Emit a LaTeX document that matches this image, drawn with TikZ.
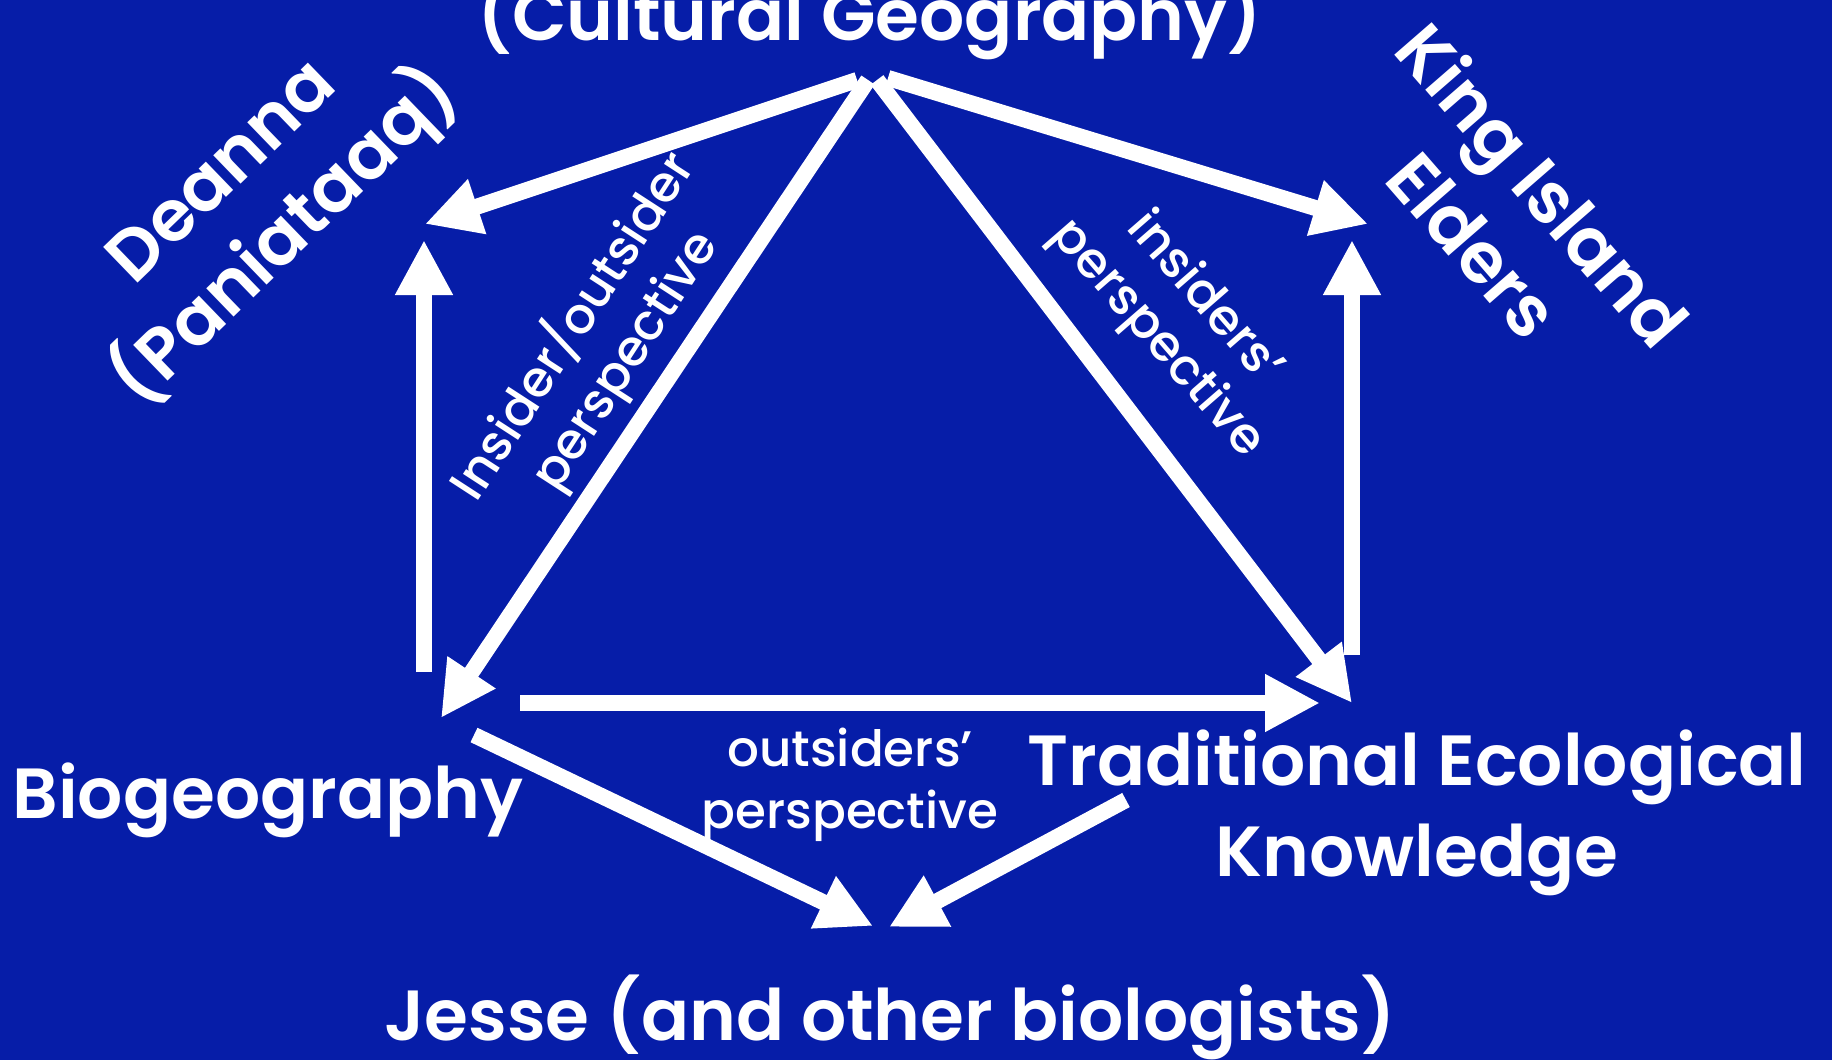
\documentclass[tikz,border=0pt]{standalone}
\usepackage{fontspec}
\setmainfont{Poppins}
\newfontfamily\headfont{Poppins SemiBold}
\newfontfamily\viewfont{Poppins Medium}
\usetikzlibrary{arrows.meta, positioning}
\definecolor{slideblue}{RGB}{6,29,168}
\tikzstyle{heading} = [text=white, font=\headfont\fontsize{71}{91}\selectfont, align=center, inner sep=0pt]
\tikzstyle{view} = [text=white, font=\viewfont\fontsize{50}{62}\selectfont, align=center, inner sep=0pt]
\tikzstyle{arrow} = [white, line width=16pt, -{Triangle[length=55pt, width=54pt]}]

\begin{document}
\begin{tikzpicture}[x=1pt, y=-1pt]
		\useasboundingbox (0,0) rectangle (1832,1060);
		\fill[slideblue] (0,0) rectangle (1832,1060);

		\node (Cultural) [heading, anchor=base] at (870,40) {(Cultural Geography)};
		\node (Deanna) [heading, rotate=44] at (258,209) {Deanna\\(Paniataaq)};
		\node (Elders) [heading, rotate=-49] at (1509,214) {King Island\\Elders};
		\node (Biogeography) [heading, anchor=base] at (268,818) {Biogeography};
		\node (TEK) [heading, anchor=base] at (1417,876) {Traditional Ecological\\Knowledge};
		\node (Jesse) [heading, anchor=base] at (890,1040) {Jesse (and other biologists)};

		\node (InOut) [view, rotate=57] at (598,343) {Insider/outsider\\perspective};
		\node (Insiders) [view, rotate=-49] at (1180,319) {insiders’\\perspective};
		\node (Outsiders) [view, anchor=base] at (850,828) {outsiders’\\perspective};

		% arrow ends
		\coordinate (ApexLeft) at (868,80);
		\coordinate (ApexRight) at (877,80);
		\coordinate (TopLeft) at (857,80);
		\coordinate (TopRight) at (888,78);
		\coordinate (DeannaTip) at (425,224);
		\coordinate (EldersTip) at (1368,224);
		\coordinate (BioTip) at (441,718);
		\coordinate (TEKTip) at (1352,703);
		\coordinate (BioUp) at (424,672);
		\coordinate (BioUpTip) at (424,240);
		\coordinate (TEKUp) at (1352,655);
		\coordinate (TEKUpTip) at (1352,240);
		\coordinate (BioRight) at (520,703);
		\coordinate (BioRightTip) at (1320,703);
		\coordinate (BioDown) at (474,735);
		\coordinate (JesseLeftTip) at (873,926);
		\coordinate (TEKDown) at (1126,800);
		\coordinate (JesseRightTip) at (889,927);

		\draw [arrow] (TopLeft) -- (DeannaTip);
		\draw [arrow] (TopRight) -- (EldersTip);
		\draw [arrow] (ApexLeft) -- (BioTip);
		\draw [arrow] (ApexRight) -- (TEKTip);
		\draw [arrow] (BioUp) -- (BioUpTip);
		\draw [arrow] (TEKUp) -- (TEKUpTip);
		\draw [arrow] (BioRight) -- (BioRightTip);
		\draw [arrow] (BioDown) -- (JesseLeftTip);
		\draw [arrow] (TEKDown) -- (JesseRightTip);
\end{tikzpicture}
\end{document}
